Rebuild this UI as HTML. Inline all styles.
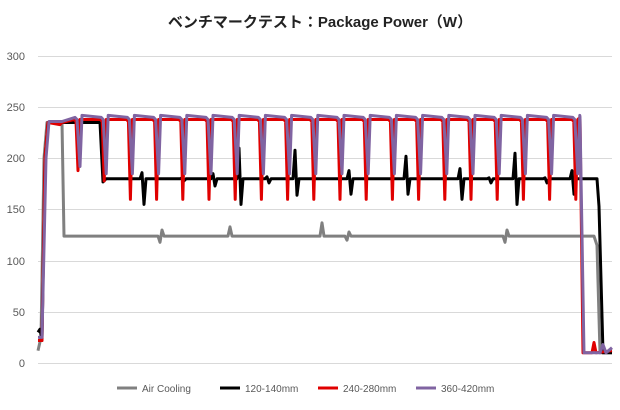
<!DOCTYPE html>
<html><head><meta charset="utf-8"><style>
body{margin:0;background:#fff;}
svg text{font-family:"Liberation Sans","Noto Sans CJK JP",sans-serif;}
</style></head><body>
<svg id="s" width="620" height="405" xmlns="http://www.w3.org/2000/svg">
<rect width="620" height="405" fill="#fff"/>
<text x="320" y="27" text-anchor="middle" font-size="15" font-weight="bold" fill="#222">ベンチマークテスト：Package Power（W）</text>
<g stroke="#d9d9d9" stroke-width="1">
<line x1="38" x2="612" y1="56.5" y2="56.5"/><line x1="38" x2="612" y1="107.5" y2="107.5"/>
<line x1="38" x2="612" y1="158.5" y2="158.5"/><line x1="38" x2="612" y1="209.5" y2="209.5"/>
<line x1="38" x2="612" y1="261.5" y2="261.5"/><line x1="38" x2="612" y1="312.5" y2="312.5"/>
<line x1="38" x2="612" y1="363.5" y2="363.5"/></g>
<g font-size="11" fill="#595959" text-anchor="end">
<text x="25" y="60">300</text><text x="25" y="111">250</text><text x="25" y="162">200</text>
<text x="25" y="213">150</text><text x="25" y="265">100</text><text x="25" y="316">50</text><text x="25" y="367">0</text></g>
<g id="lines" fill="none" stroke-width="3" stroke-linejoin="round"></g>
<g font-size="10" fill="#595959">
<line x1="117" x2="137" y1="388" y2="388" stroke="#808080" stroke-width="3"/><text x="142" y="392">Air Cooling</text>
<line x1="220" x2="240" y1="388" y2="388" stroke="#000" stroke-width="3"/><text x="245" y="392">120-140mm</text>
<line x1="318" x2="338" y1="388" y2="388" stroke="#e00000" stroke-width="3"/><text x="343" y="392">240-280mm</text>
<line x1="416" x2="436" y1="388" y2="388" stroke="#8064a2" stroke-width="3"/><text x="441" y="392">360-420mm</text>
</g>
</svg>
<script>
function Y(v){return 363-v*1.0233;}
function pl(pts,c){var p=document.createElementNS("http://www.w3.org/2000/svg","polyline");
p.setAttribute("points",pts.map(function(a){return a[0]+","+Y(a[1]).toFixed(1)}).join(" "));
p.setAttribute("stroke",c);document.getElementById("lines").appendChild(p);}
var dips=[];for(var i=0;i<20;i++)dips.push(77+i*26.2);
// gray
var g=[[38,12],[41,25],[44,200],[47,235],[62,235],[64,124]];
[[160,118,130],[228,124,133],[320,124,137],[347,120,128],[505,118,130]].forEach(function(d){g.push([d[0]-2,124],[d[0],d[1]],[d[0]+2,d[2]],[d[0]+4,124]);});
g.sort(function(a,b){return a[0]-b[0]});g=g.filter(function(p,i){return !(p[0]>64&&p[0]<65)});
g.push([594,124],[597,115],[600,10],[612,10]);pl(g,"#808080");
// black
var b=[[38,30],[40,33],[42,22],[45,200],[48,235],[100,235],[103,177],[106,180]];
var spk=[[143,155,186],[183,178,181],[214,173,185],[240,155,210],[268,176,182],[296,164,208],[350,165,188],[374,180,180],[407,165,202],[461,160,190],[490,176,181],[516,155,205],[546,176,181],[573,165,188]];
spk.forEach(function(s){b.push([s[0]-3,180],[s[0]-1,s[2]],[s[0]+1,s[1]],[s[0]+3,180]);});
b.push([597,180],[599,153],[603,10],[612,10]);pl(b,"#000");
// red
var r=[[38,22],[42,22],[45,200],[48,235],[60,233],[62,235]];
dips.forEach(function(x,i){var d=i==0?188:(i==1?178:160);r.push([x-3,238],[x-1,236],[x+1,d],[x+3,238]);});
r.push([580,240],[583,10],[592,10],[594,20],[596,10],[612,12]);pl(r,"#e00000");
// purple
var p=[[38,25],[42,25],[46,200],[49,236],[62,236]];
dips.forEach(function(x,i){var d=i==0?192:185;p.push([x-2,240],[x,238],[x+3,d],[x+5,242]);});
p.push([580,240],[584,10],[600,10],[603,18],[606,10],[612,15]);pl(p,"#8064a2");
</script>
</body></html>
